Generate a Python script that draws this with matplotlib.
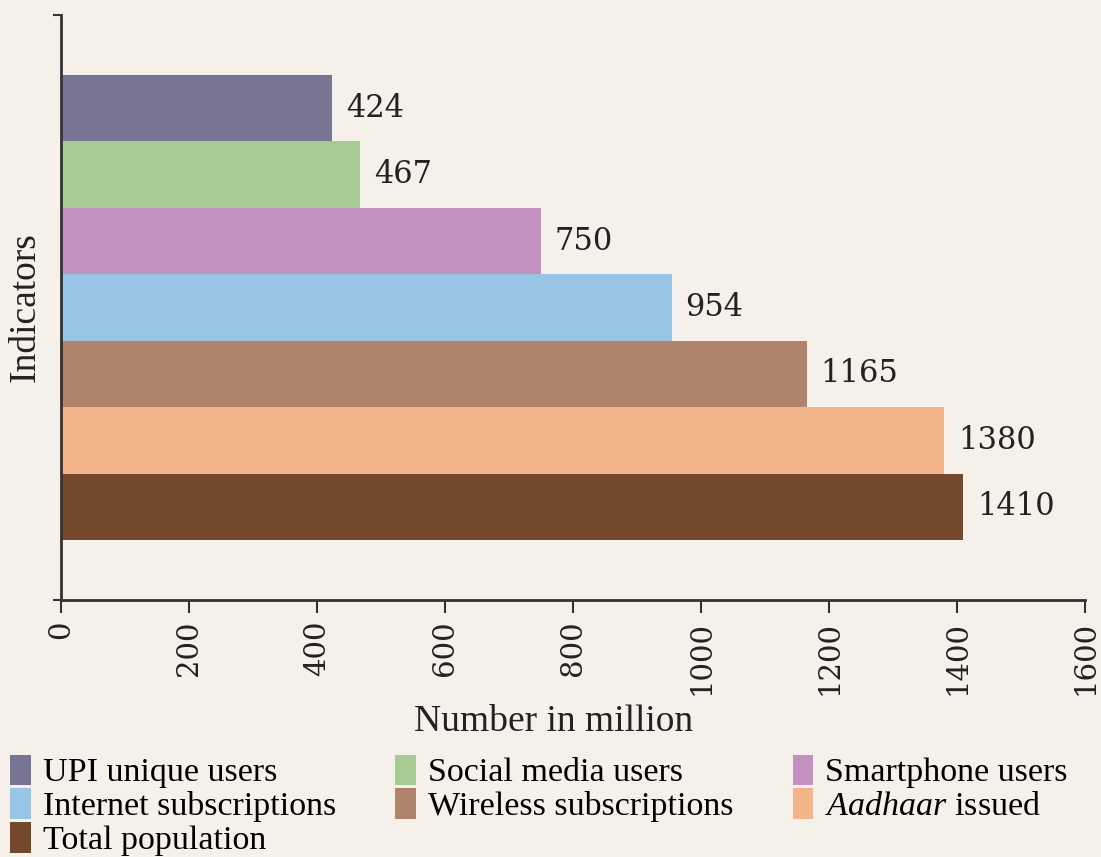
import matplotlib
matplotlib.use('Agg')
from matplotlib import pyplot as plt
from matplotlib.patches import Patch

# data
indicators = ['UPI unique users', 'Social media users', 'Smartphone users',
              'Internet subscriptions', 'Wireless subscriptions',
              '$\\it{Aadhaar}$ issued', 'Total population']
values = [424, 467, 750, 954, 1165, 1380, 1410]
colors = ['#787493', '#a8cb96', '#c490c0', '#98c4e6',
          '#b0836b', '#f4b48a', '#73482b']
xticks = [0, 200, 400, 600, 800, 1000, 1200, 1400, 1600]

bg = '#f6f0ea'
plt.rcParams['mathtext.fontset'] = 'custom'
plt.rcParams['mathtext.it'] = 'Liberation Serif:italic'
plt.rcParams['mathtext.rm'] = 'Liberation Serif'

fig = plt.figure(figsize=(11.01, 8.57), dpi=100, facecolor=bg)
ax = fig.add_axes([0.0554, 0.2999, 0.9301, 0.6826], facecolor=bg)

pos = list(range(len(values)))
ax.barh(pos, values, height=1.0, color=colors, edgecolor='none')
for p, v in zip(pos, values):
    ax.annotate(str(v), (v, p), xytext=(10, 0), textcoords='offset points',
                va='center', ha='left', fontsize=22, family='DejaVu Serif',
                color='#222222')

ax.set_xlim(0, 1600)
ax.set_ylim(len(values) - 1 + 1.4, -1.4)
ax.set_xticks(xticks)
ax.set_xticklabels([str(t) for t in xticks], rotation=90,
                   family='DejaVu Serif', fontsize=21, color='#222222')
ax.set_yticks(ax.get_ylim())
ax.set_yticklabels([])
ax.tick_params(axis='x', length=9, width=1.5, color='#333333', pad=6)
ax.tick_params(axis='y', length=6, width=1.5, color='#333333')
for s in ['top', 'right']:
    ax.spines[s].set_visible(False)
for s in ['left', 'bottom']:
    ax.spines[s].set_linewidth(2)
    ax.spines[s].set_color('#333333')

ax.set_xlabel('Number in million', family='Liberation Serif', fontsize=27,
              color='#222222')
ax.xaxis.set_label_coords(0.481, -0.178)
ax.set_ylabel('Indicators', family='Liberation Serif', fontsize=27,
              labelpad=4, color='#222222')

# legend, filled row by row
order = [0, 3, 6, 1, 4, 2, 5]
handles = [Patch(facecolor=colors[i], edgecolor='none') for i in order]
labels = [indicators[i] for i in order]
fig.legend(handles, labels, ncol=3, loc='lower left',
           bbox_to_anchor=(0.0, -0.011), frameon=False,
           prop={'family': 'Liberation Serif', 'size': 24.5},
           handlelength=0.6, handleheight=1.0, handletextpad=0.35,
           columnspacing=1.75, labelspacing=0.0, borderpad=0.3,
           borderaxespad=0.0)

fig.savefig('out.png', dpi=100, facecolor=bg)
